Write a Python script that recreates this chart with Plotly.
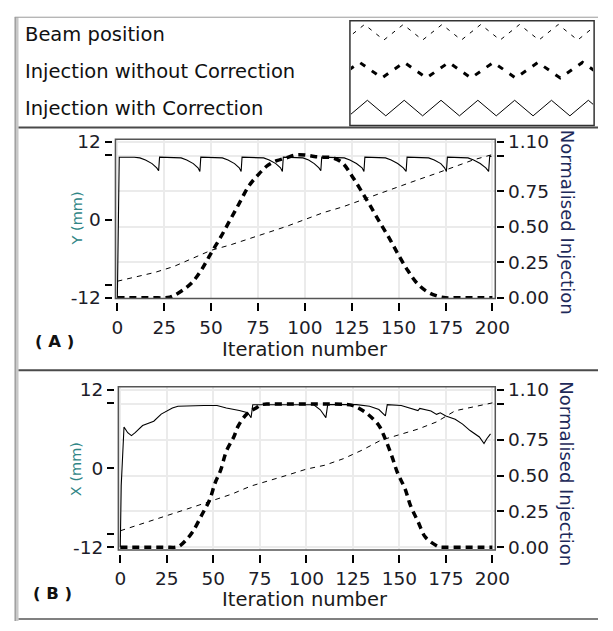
import plotly.graph_objects as go

# ---------------- data ----------------
# Panel A
iter_beam_A = [0, 10, 20, 30, 40, 50, 60, 70, 80, 90, 100, 110, 120, 130, 140, 150, 160, 170, 180, 190, 200]
beam_A = [-9.45, -8.8, -8.1, -7.2, -6.0, -4.7, -3.9, -2.9, -2.0, -1.05, 0.0, 1.1, 1.95, 3.0, 4.1, 5.1, 6.1, 7.1, 8.1, 9.2, 10.0]

iter_wo_A = [0, 5, 10, 15, 20, 25, 28, 30, 35, 40, 45, 50, 55, 60, 65, 70, 75, 80, 85, 90, 95, 100,
             105, 110, 115, 120, 125, 130, 135, 140, 145, 150, 155, 160, 165, 170, 175, 180, 185, 190, 195, 200]
inj_wo_A = [0, 0, 0, 0, 0, 0, 0.005, 0.015, 0.055, 0.11, 0.2, 0.315, 0.425, 0.545, 0.665, 0.785, 0.865, 0.93,
            0.965, 0.985, 1.005, 1.005, 0.995, 0.99, 0.985, 0.95, 0.86, 0.755, 0.645, 0.53, 0.42, 0.3, 0.19,
            0.1, 0.045, 0.015, 0, 0, 0, 0, 0, 0]

iter_wc_A = [0, 0.4, 1, 9, 12, 15, 18.5, 21, 22, 22.5, 31, 34, 37, 40.5, 43, 44, 44.5, 53, 56, 59, 62.5, 65,
             66, 66.5, 75, 78, 81, 84.5, 87, 88, 88.5, 96, 99, 102, 105, 107.5, 108.5, 109, 118, 121, 124,
             127.5, 130.5, 131.5, 132, 140, 143, 146, 149.5, 152.5, 154, 154.5, 163, 166, 169, 172.5, 174.5,
             175.5, 176, 184, 187, 190, 193.5, 196.5, 198, 198.6, 199.5]
inj_wc_A = [0, 0.55, 0.99, 0.99, 0.985, 0.97, 0.945, 0.915, 0.895, 0.99, 0.99, 0.985, 0.97, 0.945, 0.915,
            0.89, 0.99, 0.99, 0.985, 0.97, 0.945, 0.915, 0.89, 0.99, 0.99, 0.985, 0.97, 0.945, 0.915, 0.89,
            0.99, 0.99, 0.985, 0.97, 0.945, 0.915, 0.895, 0.99, 0.99, 0.985, 0.97, 0.945, 0.915, 0.89, 0.99,
            0.99, 0.985, 0.97, 0.945, 0.915, 0.89, 0.99, 0.99, 0.985, 0.97, 0.945, 0.915, 0.89, 0.99, 0.99,
            0.985, 0.97, 0.945, 0.915, 0.89, 1.0, 0.995]

# Panel B
iter_beam_B = [0, 10, 20, 30, 40, 50, 60, 70, 80, 90, 100, 110, 120, 130, 140, 150, 160, 170, 180, 190, 200]
beam_B = [-9.5, -8.6, -7.6, -6.7, -5.8, -4.85, -3.9, -2.7, -1.9, -1.0, -0.1, 0.5, 1.5, 2.8, 4.3, 5.2, 6.0,
          7.1, 8.8, 9.4, 10.0]

iter_wo_B = [0, 5, 10, 15, 20, 25, 30, 32, 35, 39, 44, 48, 51, 54, 57, 61, 63.5, 68, 73, 76, 80, 90, 100,
             110, 120, 125, 128, 133, 139, 142, 146, 149, 153, 156, 160, 164, 170, 172, 175, 180, 185, 190,
             195, 200]
inj_wo_B = [0, 0, 0, 0, 0, 0, 0, 0.01, 0.045, 0.11, 0.23, 0.33, 0.45, 0.54, 0.67, 0.77, 0.85, 0.93, 0.973,
            0.996, 1.0, 1.0, 1.0, 1.0, 0.998, 0.99, 0.973, 0.93, 0.85, 0.77, 0.634, 0.52, 0.41, 0.29, 0.18,
            0.07, 0.01, 0, 0, 0, 0, 0, 0, 0]

iter_wc_B = [0, 0.5, 2, 4, 6, 8, 12, 18, 22, 26, 28, 31, 38, 45, 52, 57, 64, 68.5, 70.3, 71.2, 80, 90, 100,
             104, 107.5, 110.5, 111.5, 120, 127, 134, 139, 142.5, 143.5, 151, 156, 160, 161, 167, 170, 172,
             175, 180, 184, 188, 193, 195.5, 197, 199]
inj_wc_B = [0, 0.43, 0.84, 0.8, 0.78, 0.8, 0.85, 0.88, 0.93, 0.96, 0.973, 0.985, 0.99, 0.99, 0.99, 0.973,
            0.955, 0.94, 0.905, 0.995, 0.995, 0.995, 0.995, 0.995, 0.96, 0.905, 0.996, 0.996, 0.996, 0.985,
            0.962, 0.917, 0.996, 0.99, 0.973, 0.955, 0.97, 0.951, 0.928, 0.939, 0.917, 0.894, 0.86, 0.815,
            0.77, 0.724, 0.758, 0.792]

x_ticks = [0, 25, 50, 75, 100, 125, 150, 175, 200]
left_tickvals = [-12, -10, 0, 10, 12]
left_ticktext = ["-12", "", "0", "", "12"]
right_tickvals = [0, 0.25, 0.5, 0.75, 1.0, 1.1]
right_ticktext = ["0.00", "0.25", "0.50", "0.75", "", "1.10"]
legend_labels = ["Beam position", "Injection without Correction", "Injection with Correction"]

# ---------------- layout helpers ----------------
W, H = 613, 631
def px(x):
    return x / W
def py(y):
    return 1 - y / H

FONT = "DejaVu Sans"
TICKCOL = "#1c1c28"
LINE = "#000000"

fig = go.Figure()

# Panel A traces
fig.add_trace(go.Scatter(x=iter_beam_A, y=beam_A, xaxis="x", yaxis="y", mode="lines",
                         line=dict(color=LINE, width=1, dash="5px,5px")))
fig.add_trace(go.Scatter(x=iter_wc_A, y=inj_wc_A, xaxis="x", yaxis="y2", mode="lines",
                         line=dict(color=LINE, width=1.1)))
fig.add_trace(go.Scatter(x=iter_wo_A, y=inj_wo_A, xaxis="x", yaxis="y2", mode="lines",
                         line=dict(color=LINE, width=3.5, dash="7px,5px"), line_shape="spline"))
# Panel B traces
fig.add_trace(go.Scatter(x=iter_beam_B, y=beam_B, xaxis="x2", yaxis="y3", mode="lines",
                         line=dict(color=LINE, width=1, dash="5px,5px")))
fig.add_trace(go.Scatter(x=iter_wc_B, y=inj_wc_B, xaxis="x2", yaxis="y4", mode="lines",
                         line=dict(color=LINE, width=1.1)))
fig.add_trace(go.Scatter(x=iter_wo_B, y=inj_wo_B, xaxis="x2", yaxis="y4", mode="lines",
                         line=dict(color=LINE, width=3.5, dash="7px,5px"), line_shape="spline"))

# Legend glyphs (zigzag samples) drawn in their own pixel-scaled axis
def zigzag(x0, x1, ytop, ybot, period, phase=0.0):
    xs, ys = [], []
    x = x0 - phase
    k = 0
    while x <= x1 + period:
        xs.append(x)
        ys.append(ybot if k % 2 == 0 else ytop)
        x += period / 2
        k += 1
    return xs, ys

gx, gy = zigzag(358, 608, 17, 33, 40, 6)
fig.add_trace(go.Scatter(x=gx, y=gy, xaxis="x3", yaxis="y5", mode="lines",
                         line=dict(color=LINE, width=1, dash="4px,6px")))
gx, gy = zigzag(358, 608, 56, 72, 46, 14)
fig.add_trace(go.Scatter(x=gx, y=gy, xaxis="x3", yaxis="y5", mode="lines",
                         line=dict(color=LINE, width=3, dash="6px,8px")))
gx, gy = zigzag(358, 608, 95, 111, 38, 2)
fig.add_trace(go.Scatter(x=gx, y=gy, xaxis="x3", yaxis="y5", mode="lines",
                         line=dict(color=LINE, width=1)))

tickfont = dict(family=FONT, size=18.5, color=TICKCOL)
common_x = dict(tickvals=x_ticks, ticks="outside", ticklen=8, tickwidth=1.5, tickcolor="#000",
                showgrid=True, gridcolor="#ebebeb", gridwidth=2, zeroline=False, showline=False,
                tickfont=tickfont, anchor="free", fixedrange=True)
common_yl = dict(tickvals=left_tickvals, ticktext=left_ticktext, ticks="outside", ticklen=7,
                 tickwidth=1.5, tickcolor="#000", showgrid=False, zeroline=False, showline=False,
                 tickfont=tickfont, anchor="free", side="left")
common_yr = dict(tickvals=right_tickvals, ticktext=right_ticktext, ticks="outside", ticklen=7,
                 tickwidth=1.5, tickcolor="#000", showgrid=True, gridcolor="#ebebeb", gridwidth=2,
                 zeroline=False, showline=False, tickfont=tickfont, anchor="free", side="right")

def n_of(v):
    return (v + 12) / 24 * 1.1

yA = [-12.1, 12.37]
yB = [-12.44, 12.44]

fig.update_layout(
    width=W, height=H, margin=dict(l=0, r=0, t=0, b=0),
    paper_bgcolor="white", plot_bgcolor="white", showlegend=False,
    xaxis=dict(domain=[px(115), px(507)], range=[-1.03, 201.55], position=py(303), **common_x),
    yaxis=dict(domain=[py(299), py(135)], range=yA, position=px(111), **common_yl),
    yaxis2=dict(domain=[py(299), py(135)], range=[n_of(yA[0]), n_of(yA[1])], overlaying="y",
                position=px(508), **common_yr),
    xaxis2=dict(domain=[px(118), px(507)], range=[-1.04, 201.56], position=py(562), **common_x),
    yaxis3=dict(domain=[py(558), py(390)], range=yB, position=px(113.5), **common_yl),
    yaxis4=dict(domain=[py(558), py(390)], range=[n_of(yB[0]), n_of(yB[1])], overlaying="y3",
                position=px(508), **common_yr),
    xaxis3=dict(domain=[px(358), px(608)], range=[358, 608], visible=False, anchor="y5"),
    yaxis5=dict(domain=[py(120), py(14)], range=[120, 14], visible=False, anchor="x3"),
)

shapes = []
# outer frame
shapes.append(dict(type="rect", xref="paper", yref="paper", x0=px(11), x1=px(15), y0=py(631), y1=py(9.5),
                   fillcolor="#c8c8c8", line=dict(width=0)))
shapes.append(dict(type="line", xref="paper", yref="paper", x0=px(11.5), x1=px(11.5), y0=py(631), y1=py(9.5),
                   line=dict(color="#8c8c8c", width=1)))
shapes.append(dict(type="line", xref="paper", yref="paper", x0=px(11), x1=1, y0=py(9.5), y1=py(9.5),
                   line=dict(color="#9a9a9a", width=1)))
for ysep in (123, 373):
    shapes.append(dict(type="line", xref="paper", yref="paper", x0=px(15), x1=1, y0=py(ysep), y1=py(ysep),
                       line=dict(color="#4a4a4a", width=2)))
shapes.append(dict(type="line", xref="paper", yref="paper", x0=px(15), x1=1, y0=py(629), y1=py(629),
                   line=dict(color="#808080", width=2)))
# legend sample box
shapes.append(dict(type="rect", xref="paper", yref="paper", x0=px(357), x1=px(609), y0=py(121), y1=py(13),
                   line=dict(color="#333333", width=1.5)))
# plot frames
shapes.append(dict(type="rect", xref="paper", yref="paper", x0=px(115), x1=px(507), y0=py(299), y1=py(135),
                   line=dict(color="#555555", width=1.5)))
shapes.append(dict(type="rect", xref="paper", yref="paper", x0=px(118), x1=px(507), y0=py(558), y1=py(390),
                   line=dict(color="#555555", width=1.5)))
fig.update_layout(shapes=shapes)

ann = []
for i, (lab, yy) in enumerate(zip(legend_labels, (27, 65, 103))):
    ann.append(dict(text=lab, x=px(20), y=py(yy), xref="paper", yref="paper", xanchor="left",
                    yanchor="middle", showarrow=False, font=dict(family=FONT, size=19.5, color="#111111")))
for lab, cy in (("Y (mm)", 217), ("X (mm)", 475)):
    ann.append(dict(text=lab, x=px(75), y=py(cy), xref="paper", yref="paper", xanchor="center",
                    yanchor="middle", textangle=-90, showarrow=False,
                    font=dict(family=FONT, size=14.5, color="#2f8585")))
for cy in (221, 480):
    ann.append(dict(text="Normalised Injection", x=px(581), y=py(cy), xref="paper", yref="paper",
                    xanchor="center", yanchor="middle", textangle=90, showarrow=False,
                    font=dict(family=FONT, size=18, color="#1e2a5a")))
for cy in (352, 609):
    ann.append(dict(text="Iteration number", x=px(311), y=py(cy), xref="paper", yref="paper",
                    xanchor="center", yanchor="middle", showarrow=False,
                    font=dict(family=FONT, size=19.5, color="#1a1a1a")))
for lab, cx, cy in (("( A )", 52, 343), ("( B )", 50, 603)):
    ann.append(dict(text="<b>" + lab + "</b>", x=px(cx), y=py(cy), xref="paper", yref="paper",
                    xanchor="center", yanchor="middle", showarrow=False,
                    font=dict(family=FONT, size=16.5, color="#111111")))
fig.update_layout(annotations=ann)

fig.write_html("out.html", config={"displayModeBar": False},
               post_script="document.body.style.margin='0';document.body.style.overflow='hidden';")
